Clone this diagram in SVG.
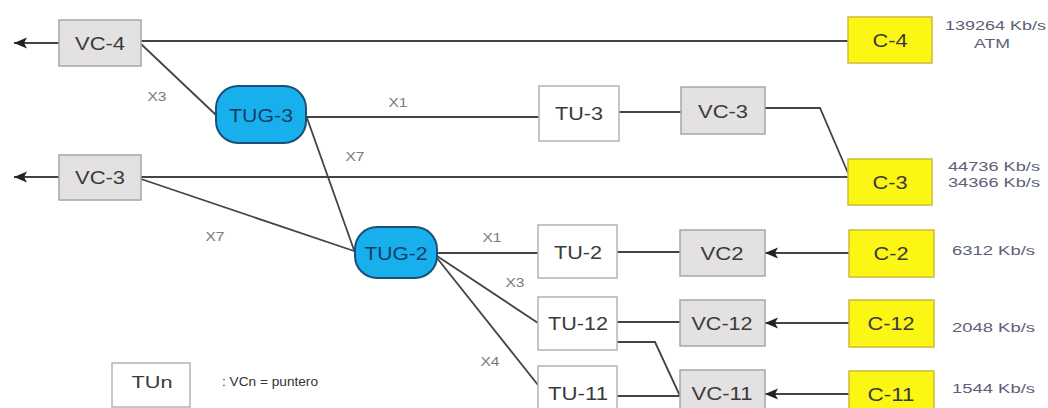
<svg xmlns="http://www.w3.org/2000/svg" width="1048" height="408" viewBox="0 0 1048 408">
<defs>
<marker id="arr" markerUnits="userSpaceOnUse" markerWidth="14" markerHeight="12" refX="13" refY="6" orient="auto">
<path d="M0,0.5 L13,6 L0,11.5 L3,6 z" fill="#222"/>
</marker>
<style>
.vc{fill:#e3e1e1;stroke:#a6a6a6;stroke-width:1.5}
.c{fill:#fbf614;stroke:#cdbb3a;stroke-width:1.5}
.tu{fill:#ffffff;stroke:#b4b4b4;stroke-width:1.5}
.tug{fill:#18b0ec;stroke:#1c4f78;stroke-width:2}
.lbl{font-family:"Liberation Sans",Arial,sans-serif;font-size:18px;fill:#3a3a3a;text-anchor:middle}
.tugt{font-family:"Liberation Sans",Arial,sans-serif;font-size:18px;fill:#163c6a;text-anchor:middle}
.x{font-family:"Liberation Sans",Arial,sans-serif;font-size:12px;fill:#7a7a7a;text-anchor:middle}
.rate{font-family:"Liberation Sans",Arial,sans-serif;font-size:13px;fill:#5c6078}
.leg{font-family:"Liberation Sans",Arial,sans-serif;font-size:12px;fill:#333}
.ln{fill:none;stroke:#444444;stroke-width:1.8}
</style>
</defs>
<rect width="1048" height="408" fill="#ffffff"/>
<g id="connectors">
<path class="ln" d="M59,43 L14,43" marker-end="url(#arr)"/>
<path class="ln" d="M59,177 L14,177" marker-end="url(#arr)"/>
<path class="ln" d="M141,41 L848,41"/>
<path class="ln" d="M141,177 L848,177"/>
<path class="ln" d="M141,44 L216,115"/>
<path class="ln" d="M306,117 L539,117"/>
<path class="ln" d="M619,112 L681,112"/>
<path class="ln" d="M765,108 L820,108 L848,173"/>
<path class="ln" d="M307,118 L354,250"/>
<path class="ln" d="M141,179 L354,251"/>
<path class="ln" d="M437,253 L538,253"/>
<path class="ln" d="M437,256 L538,323"/>
<path class="ln" d="M437,258 L538,385"/>
<path class="ln" d="M617,252 L680,252"/>
<path class="ln" d="M849,253 L765,253" marker-end="url(#arr)"/>
<path class="ln" d="M617,322 L680,322"/>
<path class="ln" d="M849,323 L765,323" marker-end="url(#arr)"/>
<path class="ln" d="M617,342 L655,342 L680,396"/>
<path class="ln" d="M617,396 L680,396"/>
<path class="ln" d="M849,394 L765,394" marker-end="url(#arr)"/>
</g>
<g id="edge-labels">
<text class="x" x="157" y="101" textLength="19" lengthAdjust="spacingAndGlyphs">X3</text>
<text class="x" x="398" y="107" textLength="19" lengthAdjust="spacingAndGlyphs">X1</text>
<text class="x" x="355" y="161" textLength="19" lengthAdjust="spacingAndGlyphs">X7</text>
<text class="x" x="215" y="241" textLength="19" lengthAdjust="spacingAndGlyphs">X7</text>
<text class="x" x="492" y="242" textLength="19" lengthAdjust="spacingAndGlyphs">X1</text>
<text class="x" x="515" y="287" textLength="19" lengthAdjust="spacingAndGlyphs">X3</text>
<text class="x" x="490" y="366" textLength="19" lengthAdjust="spacingAndGlyphs">X4</text>
</g>
<g id="vc4-left"><rect class="vc" x="59" y="20" width="82" height="46"/><text class="lbl" x="100" y="49.5" textLength="50" lengthAdjust="spacingAndGlyphs">VC-4</text></g>
<g id="vc3-left"><rect class="vc" x="59" y="155" width="82" height="45"/><text class="lbl" x="100" y="183.5" textLength="50" lengthAdjust="spacingAndGlyphs">VC-3</text></g>
<g id="tug3"><rect class="tug" x="216" y="86" width="90" height="57" rx="22"/><text class="tugt" x="261" y="121.5" textLength="64" lengthAdjust="spacingAndGlyphs">TUG-3</text></g>
<g id="tug2"><rect class="tug" x="355" y="227" width="82" height="51" rx="22"/><text class="tugt" x="396" y="259.5" textLength="63" lengthAdjust="spacingAndGlyphs">TUG-2</text></g>
<g id="tu3"><rect class="tu" x="539" y="86" width="80" height="55"/><text class="lbl" x="579" y="119.5" textLength="48" lengthAdjust="spacingAndGlyphs">TU-3</text></g>
<g id="vc3-mid"><rect class="vc" x="681" y="87" width="84" height="47"/><text class="lbl" x="723" y="117.5" textLength="50" lengthAdjust="spacingAndGlyphs">VC-3</text></g>
<g id="c4"><rect class="c" x="848" y="17" width="84" height="46"/><text class="lbl" x="890" y="46.5" textLength="35" lengthAdjust="spacingAndGlyphs">C-4</text></g>
<g id="c3"><rect class="c" x="848" y="159" width="84" height="46"/><text class="lbl" x="890" y="188.5" textLength="35" lengthAdjust="spacingAndGlyphs">C-3</text></g>
<g id="tu2"><rect class="tu" x="538" y="225" width="79" height="53"/><text class="lbl" x="578" y="258.5" textLength="48" lengthAdjust="spacingAndGlyphs">TU-2</text></g>
<g id="tu12"><rect class="tu" x="538" y="297" width="79" height="53"/><text class="lbl" x="578" y="329.5" textLength="60" lengthAdjust="spacingAndGlyphs">TU-12</text></g>
<g id="tu11"><rect class="tu" x="538" y="366" width="79" height="50"/><text class="lbl" x="578" y="399.5" textLength="60" lengthAdjust="spacingAndGlyphs">TU-11</text></g>
<g id="vc2"><rect class="vc" x="680" y="230" width="85" height="46"/><text class="lbl" x="722" y="259.5" textLength="43" lengthAdjust="spacingAndGlyphs">VC2</text></g>
<g id="vc12"><rect class="vc" x="680" y="300" width="85" height="46"/><text class="lbl" x="722" y="329.5" textLength="61" lengthAdjust="spacingAndGlyphs">VC-12</text></g>
<g id="vc11"><rect class="vc" x="680" y="370" width="85" height="46"/><text class="lbl" x="722" y="399.5" textLength="61" lengthAdjust="spacingAndGlyphs">VC-11</text></g>
<g id="c2"><rect class="c" x="849" y="230" width="85" height="47"/><text class="lbl" x="891" y="259.5" textLength="35" lengthAdjust="spacingAndGlyphs">C-2</text></g>
<g id="c12"><rect class="c" x="849" y="300" width="85" height="47"/><text class="lbl" x="891" y="329.5" textLength="47" lengthAdjust="spacingAndGlyphs">C-12</text></g>
<g id="c11"><rect class="c" x="849" y="371" width="85" height="46"/><text class="lbl" x="891" y="400.5" textLength="47" lengthAdjust="spacingAndGlyphs">C-11</text></g>
<g id="rates">
<text class="rate" x="945" y="30" textLength="101" lengthAdjust="spacingAndGlyphs">139264 Kb/s</text>
<text class="rate" x="974" y="48" textLength="36" lengthAdjust="spacingAndGlyphs">ATM</text>
<text class="rate" x="948" y="171" textLength="92" lengthAdjust="spacingAndGlyphs">44736 Kb/s</text>
<text class="rate" x="948" y="187" textLength="92" lengthAdjust="spacingAndGlyphs">34366 Kb/s</text>
<text class="rate" x="952" y="255" textLength="83" lengthAdjust="spacingAndGlyphs">6312 Kb/s</text>
<text class="rate" x="952" y="332" textLength="83" lengthAdjust="spacingAndGlyphs">2048 Kb/s</text>
<text class="rate" x="952" y="393" textLength="83" lengthAdjust="spacingAndGlyphs">1544 Kb/s</text>
</g>
<g id="legend">
<rect class="tu" x="112" y="363" width="78" height="44"/>
<text class="lbl" x="152" y="388" style="font-size:17px" textLength="41" lengthAdjust="spacingAndGlyphs">TUn</text>
<text class="leg" x="222" y="386" textLength="96" lengthAdjust="spacingAndGlyphs">: VCn = puntero</text>
</g>
</svg>
